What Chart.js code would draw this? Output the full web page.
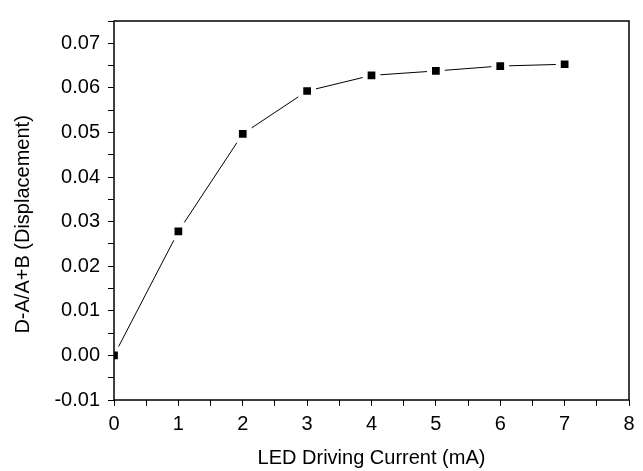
<!DOCTYPE html>
<html>
<head>
<meta charset="utf-8">
<script src="https://cdn.jsdelivr.net/npm/chart.js@4"></script>
<style>
  html, body { margin: 0; padding: 0; background: #fff; }
  #wrap { width: 643px; height: 471px; }
</style>
</head>
<body>
<div id="wrap"><canvas id="graph1"></canvas></div>
<script>
const currents = [0, 1, 2, 3, 4, 5, 6, 7];
const displacement = [0.0000, 0.0278, 0.0497, 0.0593, 0.0628, 0.0638, 0.0649, 0.0653];
const xTickLabels = ['0', '1', '2', '3', '4', '5', '6', '7', '8'];
const yTickLabels = ['-0.01', '0.00', '0.01', '0.02', '0.03', '0.04', '0.05', '0.06', '0.07'];

const FONT = '"Liberation Sans", Arial, sans-serif';

// frame round the plot area (top and right sides too)
const frame = {
    id: 'frame',
    afterDatasetsDraw(chart) {
        const a = chart.chartArea;
        const ctx = chart.ctx;
        ctx.save();
        ctx.strokeStyle = '#000';
        ctx.lineWidth = 1.5;
        ctx.strokeRect(a.left, a.top, a.right - a.left, a.bottom - a.top);
        ctx.restore();
    }
};

const config = {
    type: 'line',
    data: {
        datasets: [{
            data: currents.map((x, i) => ({ x: x, y: displacement[i] })),
            borderColor: '#000',
            borderWidth: 1,
            backgroundColor: '#000',
            pointStyle: 'rect',
            pointRadius: 9,
            pointHoverRadius: 9,
            pointBackgroundColor: '#000',
            pointBorderColor: '#fff',
            pointBorderWidth: 5,
            tension: 0,
            clip: 0
        }]
    },
    options: {
        responsive: true,
        maintainAspectRatio: false,
        animation: false,
        layout: { padding: { top: 21, right: 13, left: 0, bottom: 0 } },
        plugins: {
            legend: { display: false },
            tooltip: { enabled: false }
        },
        scales: {
            x: {
                type: 'linear',
                min: 0,
                max: 8,
                afterFit: s => { s.height = 71; },
                border: { display: false },
                grid: {
                    drawOnChartArea: false,
                    tickLength: 6,
                    tickColor: '#000',
                    tickWidth: 1
                },
                ticks: {
                    stepSize: 0.5,
                    autoSkip: false,
                    maxRotation: 0,
                    padding: 6,
                    color: '#000',
                    font: { family: FONT, size: 20 },
                    callback: v => Number.isInteger(v) ? xTickLabels[v] : ''
                },
                title: {
                    display: true,
                    text: 'LED Driving Current (mA)',
                    color: '#000',
                    font: { family: FONT, size: 20 },
                    padding: { top: 0, bottom: 1 }
                }
            },
            y: {
                min: -0.01,
                max: 0.075,
                afterFit: s => { s.width = 114; },
                border: { display: false },
                grid: {
                    drawOnChartArea: false,
                    tickLength: 6,
                    tickColor: '#000',
                    tickWidth: 1
                },
                ticks: {
                    stepSize: 0.005,
                    autoSkip: false,
                    padding: 8,
                    color: '#000',
                    font: { family: FONT, size: 20 },
                    callback: v => {
                        const k = Math.round(v * 100);
                        if (Math.abs(k - v * 100) > 1e-6) return '';
                        return yTickLabels[k + 1] || '';
                    }
                },
                title: {
                    display: true,
                    // trailing spaces nudge the rotated title a little lower, as in the original
                    text: 'D-A/A+B (Displacement)     ',
                    color: '#000',
                    font: { family: FONT, size: 20 },
                    padding: { top: 11, bottom: 0 }
                }
            }
        }
    },
    plugins: [frame]
};

const myChart = new Chart(document.getElementById('graph1'), config);
</script>
</body>
</html>
